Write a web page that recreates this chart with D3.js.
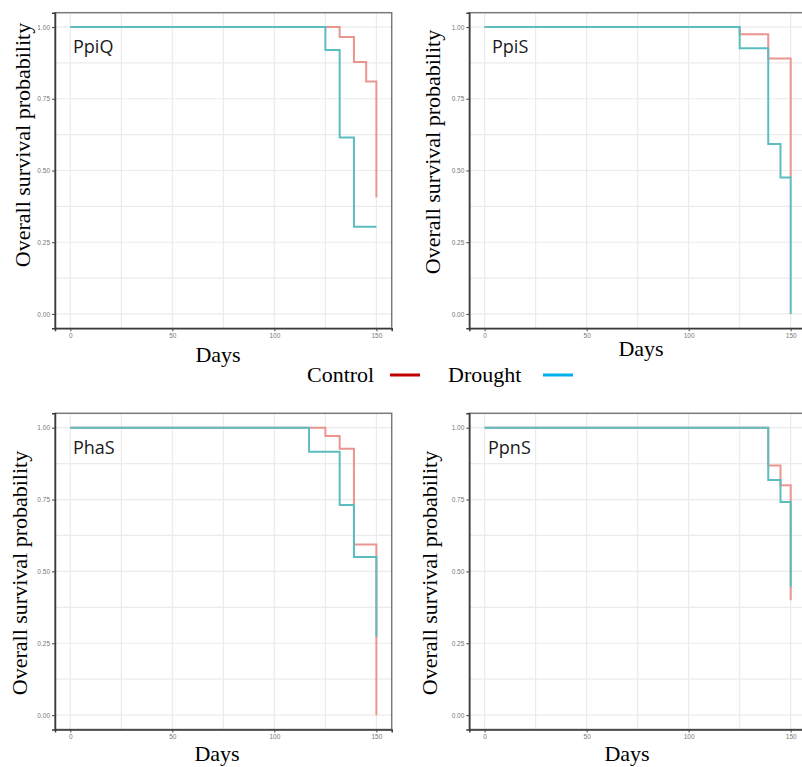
<!DOCTYPE html>
<html>
<head>
<meta charset="utf-8">
<script src="https://cdn.jsdelivr.net/npm/d3@7"></script>
<style>
html,body{margin:0;padding:0;background:#fff;}
svg{display:block;}
</style>
</head>
<body>
<svg id="chart" width="802" height="767"></svg>
<script>
// ---- data ----
const panelNames = ["PpiQ", "PpiS", "PhaS", "PpnS"];
const seriesNames = ["Control", "Drought"];
const xTicks = [0, 50, 100, 150];
const xTickLabels = ["0", "50", "100", "150"];
const yTicks = [0, 0.25, 0.5, 0.75, 1];
const yTickLabels = ["0.00", "0.25", "0.50", "0.75", "1.00"];

// [day, survival probability] step points (Kaplan-Meier)
const ppiqControl = [[0,1],[132,0.965],[139,0.878],[145,0.81],[150,0.406]];
const ppiqDrought = [[0,1],[125,0.92],[132,0.615],[139,0.304],[150,0.304]];
const ppisControl = [[0,1],[125,0.975],[139,0.89],[150,0.476]];
const ppisDrought = [[0,1],[125,0.926],[139,0.592],[145,0.476],[150,0]];
const phasControl = [[0,1],[125,0.971],[132,0.927],[139,0.594],[150,0]];
const phasDrought = [[0,1],[117,0.916],[132,0.731],[139,0.55],[150,0.273]];
const ppnsControl = [[0,1],[139,0.868],[145,0.80],[150,0.40]];
const ppnsDrought = [[0,1],[139,0.818],[145,0.741],[150,0.447]];

const controlSeries = [ppiqControl, ppisControl, phasControl, ppnsControl];
const droughtSeries = [ppiqDrought, ppisDrought, phasDrought, ppnsDrought];

// ---- layout ----
const colors = {Control: "#eb9590", Drought: "#5cbdc0"};
const legendColors = {Control: "#c00000", Drought: "#00b0f0"};
const frames = [
  {left: 55,    top: 12.7,  bottom: 328.3, titleX: 23,  titleY: 145, daysX: 218, daysY: 362, labX: 73,  labY: 52.5},
  {left: 469.3, top: 12.7,  bottom: 328.3, titleX: 433, titleY: 152, daysX: 641, daysY: 356, labX: 492, labY: 52.5},
  {left: 55,    top: 413.3, bottom: 729.5, titleX: 20,  titleY: 573, daysX: 217, daysY: 761, labX: 73,  labY: 454},
  {left: 469.3, top: 413.3, bottom: 729.5, titleX: 430, titleY: 573, daysX: 627, daysY: 761, labX: 488, labY: 454}
];
const plotW = 336.7;

const svg = d3.select("#chart");

frames.forEach((f, i) => {
  const x = d3.scaleLinear().domain([-7.5, 157.5]).range([f.left, f.left + plotW]);
  const y = d3.scaleLinear().domain([-0.05, 1.05]).range([f.bottom, f.top]);
  const g = svg.append("g");

  // grid (minor + major)
  const xGrid = d3.range(0, 151, 25);
  const yGrid = d3.range(0, 1.0001, 0.125);
  g.selectAll(".gx").data(xGrid).enter().append("line")
    .attr("x1", d => x(d)).attr("x2", d => x(d))
    .attr("y1", f.top).attr("y2", f.bottom)
    .attr("stroke", "#ebebeb").attr("stroke-width", 1.2);
  g.selectAll(".gy").data(yGrid).enter().append("line")
    .attr("y1", d => y(d)).attr("y2", d => y(d))
    .attr("x1", f.left).attr("x2", f.left + plotW)
    .attr("stroke", "#ebebeb").attr("stroke-width", 1.2);

  // curves
  const line = d3.line().x(d => x(d[0])).y(d => y(d[1])).curve(d3.curveStepAfter);
  [["Control", controlSeries[i]], ["Drought", droughtSeries[i]]].forEach(([name, data]) => {
    g.append("path").datum(data)
      .attr("d", line)
      .attr("fill", "none")
      .attr("stroke", colors[name])
      .attr("stroke-width", 2);
  });

  // frame
  g.append("rect")
    .attr("x", f.left).attr("y", f.top)
    .attr("width", plotW).attr("height", f.bottom - f.top)
    .attr("fill", "none").attr("stroke", "#7a7a7a").attr("stroke-width", 1.5);

  // axes
  const yAxis = d3.axisLeft(y).tickValues(yTicks)
    .tickFormat((d, k) => yTickLabels[k]).tickSize(3).tickPadding(2);
  const ya = g.append("g").attr("transform", `translate(${f.left},0)`).call(yAxis);
  const xAxis = d3.axisBottom(x).tickValues(xTicks)
    .tickFormat((d, k) => xTickLabels[k]).tickSize(3).tickPadding(2);
  const xa = g.append("g").attr("transform", `translate(0,${f.bottom})`).call(xAxis);
  [ya, xa].forEach(a => {
    a.select(".domain").attr("stroke", "#3a3a3a").attr("stroke-width", 1.5);
    a.selectAll(".tick line").attr("stroke", "#444").attr("stroke-width", 1);
    a.selectAll(".tick text").attr("fill", "#777")
      .style("font-family", "Liberation Sans, Arial, sans-serif").style("font-size", "6.5px");
  });

  // panel label
  g.append("text").attr("x", f.labX).attr("y", f.labY)
    .text(panelNames[i])
    .style("font-family", "Open Sans, sans-serif").style("font-size", "18px").attr("fill", "#1a1a1a");

  // y title
  g.append("text")
    .attr("transform", `translate(${f.titleX + 7},${f.titleY}) rotate(-90)`)
    .attr("text-anchor", "middle")
    .text("Overall survival probability")
    .style("font-family", "Liberation Serif, Times New Roman, serif").style("font-size", "22px").attr("fill", "#000");

  // x title
  g.append("text")
    .attr("x", f.daysX).attr("y", f.daysY)
    .attr("text-anchor", "middle")
    .text("Days")
    .style("font-family", "Liberation Serif, Times New Roman, serif").style("font-size", "22px").attr("fill", "#000");
});

// legend
const legendItems = [
  {name: seriesNames[0], tx: 307, lx1: 390, lx2: 420},
  {name: seriesNames[1], tx: 448, lx1: 543, lx2: 573}
];
const lg = svg.append("g");
legendItems.forEach(it => {
  lg.append("text").attr("x", it.tx).attr("y", 381.6).text(it.name)
    .style("font-family", "Liberation Serif, Times New Roman, serif").style("font-size", "22px").attr("fill", "#000");
  lg.append("line").attr("x1", it.lx1).attr("x2", it.lx2).attr("y1", 375).attr("y2", 375)
    .attr("stroke", legendColors[it.name]).attr("stroke-width", 3);
});
</script>
</body>
</html>
